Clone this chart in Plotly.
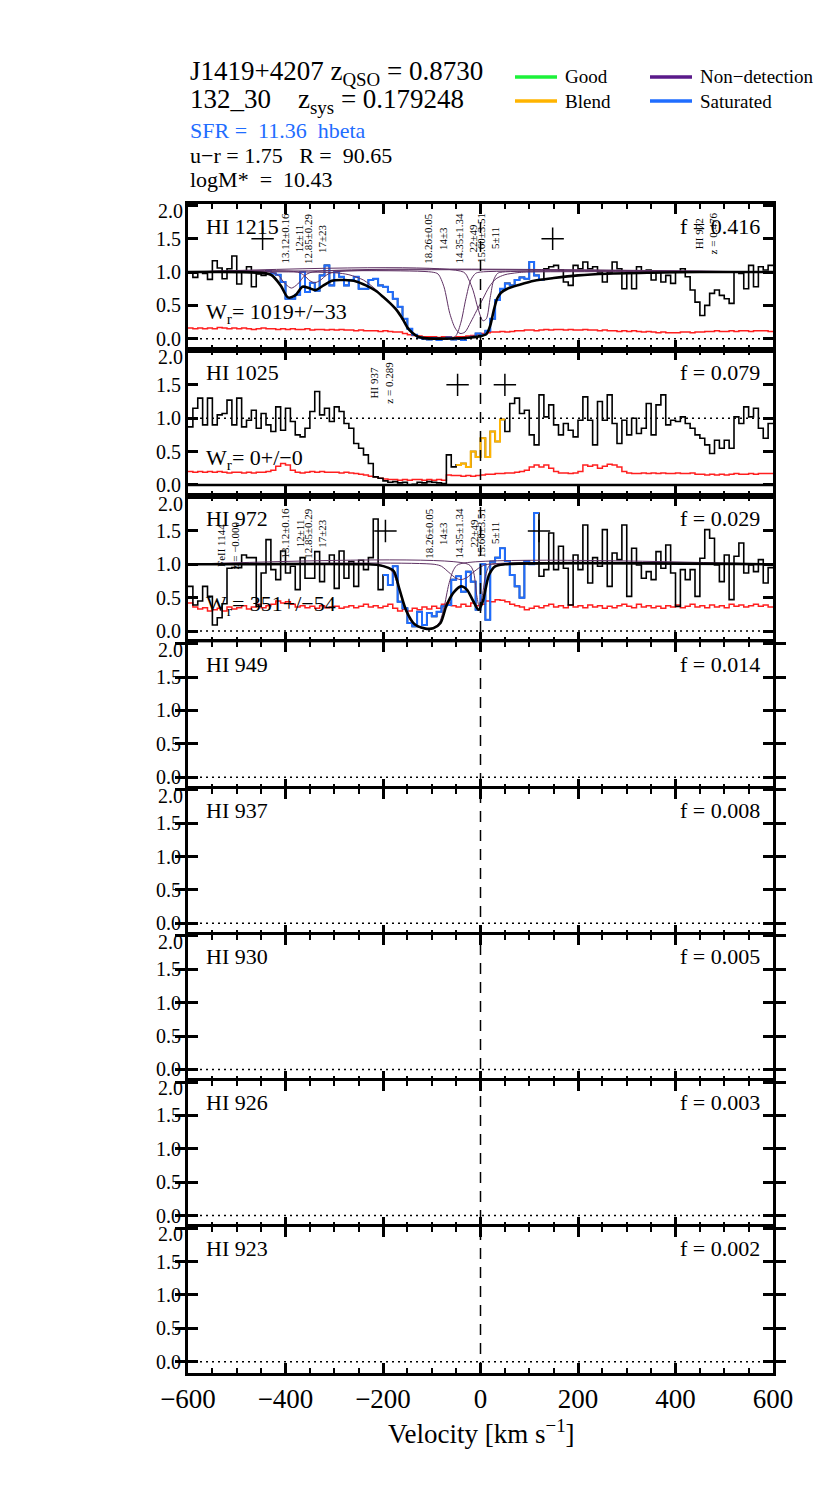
import plotly.graph_objects as go
from plotly.subplots import make_subplots

# velocity bin centres of the spectra (km/s), 10 km/s bins
vel = list(range(-595, 600, 10))

flux_1215 = [1.00, 0.92, 1.00, 0.98, 0.89, 1.17, 1.06, 0.90, 1.05, 1.24,
             0.82, 1.00, 1.08, 0.78, 0.97, 0.95, 1.02, 0.98, 0.96, 0.85,
             0.60, 0.60, 0.66, 1.00, 0.70, 0.84, 0.72, 0.95, 1.10, 0.80,
             1.00, 0.93, 0.80, 0.88, 0.93, 0.75, 0.75, 0.88, 0.90, 0.80,
             0.78, 0.70, 0.60, 0.48, 0.30, 0.15, 0.06, 0.02, 0.00, -0.01,
             0.01, -0.02, 0.00, 0.02, -0.01, 0.00, -0.02, 0.01, 0.03, 0.08,
             0.06, 0.12, 0.30, 0.58, 0.75, 0.83, 0.80, 0.88, 0.92, 0.90,
             1.15, 0.95, 0.88, 1.05, 1.08, 1.10, 1.03, 0.85, 0.80, 1.10,
             1.05, 1.15, 1.05, 1.08, 1.00, 0.85, 1.00, 1.15, 1.05, 0.75,
             1.00, 0.75, 1.08, 1.00, 1.03, 0.88, 1.00, 0.85, 0.95, 0.83,
             1.00, 1.05, 0.93, 0.73, 0.55, 0.35, 0.50, 0.68, 0.73, 0.65,
             0.60, 0.53, 1.00, 0.98, 0.75, 1.10, 0.78, 1.08, 1.03, 1.10]
err_1215 = [0.16, 0.15, 0.16, 0.15, 0.16, 0.15, 0.17, 0.16, 0.15, 0.16,
            0.15, 0.16, 0.15, 0.14, 0.15, 0.16, 0.15, 0.15, 0.14, 0.15,
            0.14, 0.15, 0.14, 0.14, 0.15, 0.13, 0.14, 0.14, 0.13, 0.14,
            0.13, 0.14, 0.13, 0.13, 0.12, 0.13, 0.12, 0.12, 0.12, 0.11,
            0.12, 0.11, 0.10, 0.10, 0.08, 0.06, 0.05, 0.04, 0.03, 0.03,
            0.03, 0.02, 0.03, 0.03, 0.02, 0.03, 0.03, 0.04, 0.05, 0.07,
            0.08, 0.09, 0.10, 0.10, 0.11, 0.10, 0.11, 0.12, 0.12, 0.13,
            0.13, 0.12, 0.13, 0.14, 0.13, 0.14, 0.14, 0.13, 0.14, 0.13,
            0.13, 0.14, 0.13, 0.13, 0.12, 0.13, 0.12, 0.12, 0.11, 0.12,
            0.11, 0.12, 0.11, 0.10, 0.11, 0.10, 0.09, 0.10, 0.09, 0.09,
            0.09, 0.10, 0.10, 0.09, 0.10, 0.10, 0.11, 0.11, 0.12, 0.11,
            0.11, 0.12, 0.11, 0.12, 0.12, 0.11, 0.12, 0.12, 0.12, 0.11]

flux_1025 = [0.87, 1.15, 1.30, 0.90, 1.30, 0.90, 1.05, 1.07, 1.27, 0.90,
             1.30, 0.87, 0.97, 1.12, 0.85, 1.07, 0.90, 0.80, 1.17, 0.82,
             1.15, 0.95, 0.75, 0.72, 0.85, 1.10, 1.40, 1.05, 1.15, 0.95,
             1.17, 1.10, 0.92, 0.85, 0.62, 0.55, 0.45, 0.32, 0.12, 0.10,
             0.06, 0.04, 0.05, 0.03, 0.04, 0.00, 0.01, 0.04, 0.03, 0.05,
             0.04, 0.03, 0.02, 0.45, 0.27, 0.30, 0.32, 0.27, 0.50, 0.42,
             0.70, 0.42, 0.80, 0.65, 0.98, 0.80, 1.22, 1.30, 1.07, 1.12,
             0.75, 0.60, 1.35, 1.02, 1.20, 0.90, 0.75, 0.92, 0.82, 0.72,
             0.97, 1.32, 0.97, 0.60, 1.25, 0.97, 1.35, 0.92, 0.62, 0.97,
             0.75, 1.00, 0.77, 0.85, 1.22, 0.75, 1.20, 1.35, 0.90, 0.97,
             0.95, 1.02, 0.92, 0.85, 0.75, 0.70, 0.60, 0.47, 0.67, 0.55,
             0.67, 0.55, 1.02, 0.92, 1.17, 1.02, 1.15, 0.85, 0.70, 0.92]
err_1025 = [0.20, 0.19, 0.20, 0.19, 0.20, 0.19, 0.20, 0.19, 0.18, 0.19,
            0.19, 0.18, 0.19, 0.18, 0.19, 0.19, 0.20, 0.22, 0.28, 0.32,
            0.30, 0.22, 0.19, 0.18, 0.19, 0.20, 0.19, 0.20, 0.19, 0.19,
            0.19, 0.18, 0.19, 0.18, 0.17, 0.16, 0.15, 0.13, 0.12, 0.10,
            0.09, 0.08, 0.08, 0.07, 0.08, 0.07, 0.08, 0.08, 0.07, 0.08,
            0.07, 0.08, 0.07, 0.15, 0.14, 0.14, 0.13, 0.14, 0.13, 0.14,
            0.15, 0.16, 0.16, 0.17, 0.17, 0.18, 0.18, 0.19, 0.20, 0.22,
            0.27, 0.30, 0.27, 0.30, 0.25, 0.20, 0.18, 0.18, 0.17, 0.18,
            0.20, 0.30, 0.28, 0.30, 0.25, 0.28, 0.31, 0.30, 0.27, 0.20,
            0.18, 0.17, 0.17, 0.18, 0.17, 0.18, 0.17, 0.18, 0.17, 0.17,
            0.18, 0.17, 0.17, 0.18, 0.16, 0.16, 0.15, 0.16, 0.15, 0.16,
            0.15, 0.16, 0.17, 0.16, 0.16, 0.17, 0.16, 0.17, 0.17, 0.17]

flux_972 = [0.67, 0.39, 0.45, 0.67, 0.52, 0.09, 0.20, 0.41, 0.94, 0.95,
            0.95, 1.14, 1.10, 1.10, 0.37, 0.87, 1.37, 0.92, 0.77, 1.20,
            0.87, 0.97, 0.62, 1.10, 0.79, 0.79, 1.19, 0.74, 1.00, 1.14,
            0.64, 1.20, 0.79, 1.04, 0.67, 1.06, 0.92, 1.10, 1.68, 0.62,
            0.84, 0.69, 0.97, 0.44, 0.34, 0.12, 0.07, 0.29, 0.09, 0.27,
            0.22, 0.29, 0.37, 0.39, 0.77, 0.82, 0.59, 0.89, 0.74, 0.32,
            1.00, 0.17, 1.04, 1.10, 1.24, 1.05, 0.84, 0.67, 0.50, 1.05,
            1.00, 1.77, 0.82, 0.92, 1.47, 0.92, 1.27, 0.94, 0.39, 1.14,
            0.92, 1.59, 0.72, 1.10, 0.97, 1.52, 0.67, 1.17, 1.07, 1.59,
            0.52, 1.24, 0.99, 0.79, 0.89, 0.77, 1.19, 0.94, 1.29, 0.87,
            0.37, 0.92, 0.77, 0.92, 0.52, 1.09, 1.52, 1.39, 0.99, 0.74,
            1.14, 0.47, 1.12, 1.32, 0.87, 0.99, 0.89, 1.07, 0.72, 0.95]
err_972 = [0.42, 0.36, 0.33, 0.35, 0.30, 0.32, 0.34, 0.30, 0.36, 0.33,
           0.35, 0.38, 0.33, 0.36, 0.40, 0.35, 0.38, 0.40, 0.45, 0.42,
           0.44, 0.40, 0.36, 0.38, 0.35, 0.37, 0.34, 0.38, 0.35, 0.36,
           0.37, 0.34, 0.36, 0.38, 0.35, 0.37, 0.40, 0.36, 0.38, 0.35,
           0.37, 0.40, 0.34, 0.30, 0.33, 0.30, 0.34, 0.32, 0.36, 0.33,
           0.37, 0.34, 0.40, 0.42, 0.38, 0.36, 0.40, 0.37, 0.42, 0.38,
           0.40, 0.45, 0.44, 0.47, 0.46, 0.44, 0.40, 0.38, 0.36, 0.32,
           0.34, 0.37, 0.35, 0.38, 0.40, 0.36, 0.38, 0.35, 0.39, 0.36,
           0.38, 0.35, 0.39, 0.36, 0.38, 0.34, 0.37, 0.35, 0.38, 0.40,
           0.37, 0.35, 0.40, 0.36, 0.38, 0.35, 0.37, 0.34, 0.38, 0.36,
           0.39, 0.35, 0.37, 0.40, 0.36, 0.38, 0.35, 0.39, 0.36, 0.38,
           0.35, 0.40, 0.37, 0.39, 0.36, 0.38, 0.40, 0.37, 0.39, 0.36]

# fitted model (thick black) sampled along velocity
model_1215_v = [-600, -470, -430, -410, -395, -380, -365, -352, -338, -322, -305,
                -280, -255, -235, -215, -200, -185, -172, -160, -150, -140, -128,
                -115, -60, -20, 0, 12, 20, 27, 34, 42, 55, 80, 110, 150, 200,
                260, 350, 450, 600]
model_1215_f = [1.0, 0.995, 0.96, 0.8, 0.62, 0.65, 0.78, 0.76, 0.73, 0.8, 0.87,
                0.88, 0.86, 0.8, 0.72, 0.63, 0.53, 0.43, 0.3, 0.17, 0.09, 0.03,
                0.01, 0.005, 0.02, 0.04, 0.07, 0.2, 0.42, 0.6, 0.69, 0.75, 0.81,
                0.87, 0.91, 0.95, 0.975, 0.99, 1.0, 1.0]
model_972_v = [-600, -230, -210, -190, -178, -166, -152, -135, -115, -97, -82,
               -70, -55, -40, -28, -15, -4, 5, 10, 18, 30, 50, 600]
model_972_f = [1.0, 1.0, 0.99, 0.95, 0.9, 0.62, 0.3, 0.1, 0.04, 0.04, 0.12,
               0.38, 0.58, 0.67, 0.62, 0.45, 0.32, 0.45, 0.62, 0.85, 0.97, 1.0, 1.0]

# individual components (thin lines), HI 1215 panel
c1_v = [-600, -430, -415, -400, -388, -375, -360, -345, 600]
c1_f = [1.0, 1.0, 0.95, 0.82, 0.76, 0.82, 0.95, 1.0, 1.0]
c2_v = [-600, -375, -362, -350, -340, -328, -315, -300, 600]
c2_f = [1.0, 1.0, 0.95, 0.87, 0.84, 0.88, 0.96, 1.0, 1.0]
c3_v = [-600, -300, -270, -240, -215, -200, -185, -172, -160, -150, -140, -128,
        -60, -50, -40, -30, -20, -10, 0, 600]
c3_f = [1.0, 0.99, 0.96, 0.88, 0.74, 0.64, 0.54, 0.44, 0.31, 0.18, 0.09, 0.02,
        0.0, 0.05, 0.25, 0.6, 0.88, 0.98, 1.0, 1.0]
c4_v = [-600, -100, -87, -75, -63, -52, -42, -32, -20, -8, 5, 18, 32, 50, 75, 95, 600]
c4_f = [1.0, 1.0, 0.97, 0.78, 0.38, 0.16, 0.08, 0.1, 0.25, 0.42, 0.6, 0.78,
        0.9, 0.96, 0.99, 1.0, 1.0]
c5_v = [-600, -35, -25, -15, -5, 5, 12, 20, 27, 35, 45, 600]
c5_f = [1.0, 1.0, 0.9, 0.72, 0.45, 0.27, 0.3, 0.62, 0.88, 0.98, 1.0, 1.0]
# individual components, HI 972 panel
d3_v = [-600, -225, -200, -182, -168, -155, -140, -120, -100, -85, -75, -65, -55, -45, 600]
d3_f = [1.0, 1.0, 0.98, 0.9, 0.65, 0.33, 0.12, 0.04, 0.04, 0.12, 0.35, 0.7, 0.92, 1.0, 1.0]
d4_v = [-600, -95, -80, -65, -50, -40, -28, -15, 0, 15, 600]
d4_f = [1.0, 1.0, 0.97, 0.88, 0.79, 0.77, 0.8, 0.88, 0.96, 1.0, 1.0]
d5_v = [-600, -25, -15, -8, -3, 3, 10, 18, 25, 600]
d5_f = [1.0, 1.0, 0.9, 0.55, 0.38, 0.5, 0.82, 0.98, 1.0, 1.0]

line_names = ["HI 1215", "HI 1025", "HI 972", "HI 949", "HI 937", "HI 930", "HI 926", "HI 923"]
f_values = ["0.416", "0.079", "0.029", "0.014", "0.008", "0.005", "0.003", "0.002"]
wr_values = ["1019+/\u221233", "0+/\u22120", "351+/\u221254"]

comp_v = [-386, -340, -92, -29, 14]
comp_logn = ["13.12\u00b10.16", "12.85\u00b10.29", "18.26\u00b10.05", "14.35\u00b11.34", "15.60\u00b13.51"]
comp_b = ["12\u00b111", "17\u00b123", "14\u00b13", "22\u00b149", "5\u00b111"]

# crosses marking the integration limits
cross_v = [[-447, 148], [-47, 50], [-195, 120]]

FONT = "Liberation Serif"
BLACK = "#000000"
RED = "#ff1f1f"
BLUE = "#1f6dff"
ORANGE = "#ffb400"
GREEN = "#1cf23a"
PURPLE = "#5a1a8a"
THIN = "#5e3163"

# page body has an 8px margin, so figure coords = page coords - 8
OFF = 8
W, H = 830, 1495
ML, MR, MT, MB = 188 - OFF, 830 - 773 + OFF, 204 - OFF, 1495 - 1373 + OFF


def paper(xp, yp):
    return (xp - OFF - ML) / (W - ML - MR), (H - MB - (yp - OFF)) / (H - MT - MB)


def steps(v, f, lo=-600, hi=600):
    xs, ys = [], []
    for vc, fc in zip(v, f):
        if lo <= vc <= hi:
            xs.append(vc - 5)
            ys.append(fc)
    xs.append(xs[-1] + 10)
    ys.append(ys[-1])
    return xs, ys


fig = make_subplots(rows=8, cols=1, shared_xaxes=True, vertical_spacing=0)


def add_step(row, v, f, color, width, lo=-600, hi=600):
    xs, ys = steps(v, f, lo, hi)
    fig.add_trace(go.Scatter(x=xs, y=ys, mode="lines", line=dict(color=color, width=width, shape="hv"),
                             hoverinfo="skip"), row=row, col=1)


def add_curve(row, v, f, color, width):
    fig.add_trace(go.Scatter(x=v, y=f, mode="lines",
                             line=dict(color=color, width=width, shape="spline", smoothing=0.8),
                             hoverinfo="skip"), row=row, col=1)


DOT = "2px,4px"
# dotted zero line everywhere
for r in range(1, 9):
    fig.add_shape(type="line", x0=-600, x1=600, y0=0, y1=0, line=dict(color=BLACK, width=1.5, dash=DOT),
                  row=r, col=1)
fig.add_shape(type="line", x0=-600, x1=600, y0=1, y1=1, line=dict(color=BLACK, width=1.5, dash=DOT),
              row=2, col=1)
fig.add_shape(type="line", x0=-600, x1=600, y0=0, y1=0, line=dict(color=BLACK, width=2.5), row=2, col=1)

# HI 1215
add_step(1, vel, err_1215, RED, 1.5)
add_step(1, vel, flux_1215, BLACK, 1.6)
add_step(1, vel, flux_1215, BLUE, 2, -440, 130)
for cv, cf in [(c1_v, c1_f), (c2_v, c2_f), (c3_v, c3_f), (c4_v, c4_f), (c5_v, c5_f)]:
    add_curve(1, cv, cf, THIN, 1)
add_curve(1, model_1215_v, model_1215_f, BLACK, 2.6)

# HI 1025
add_step(2, vel, err_1025, RED, 1.5)
add_step(2, vel, flux_1025, BLACK, 1.6)
add_step(2, vel, flux_1025, ORANGE, 2, -45, 45)

# HI 972
add_step(3, vel, err_972, RED, 1.5)
add_step(3, vel, flux_972, BLACK, 1.6)
add_step(3, vel, flux_972, BLUE, 2, -200, 115)
for cv, cf in [(d3_v, d3_f), (d4_v, d4_f), (d5_v, d5_f)]:
    add_curve(3, cv, cf, THIN, 1)
add_curve(3, model_972_v, model_972_f, BLACK, 2.6)

# integration limit crosses
for i, cv in enumerate(cross_v):
    fig.add_trace(go.Scatter(x=cv, y=[1.5, 1.5], mode="markers",
                             marker=dict(symbol="cross-thin", size=16, line=dict(color=BLACK, width=1.5)),
                             hoverinfo="skip"), row=i + 1, col=1)

# vertical dashed line at v = 0
fig.add_shape(type="line", xref="x", yref="paper", x0=0, x1=0, y0=0, y1=1,
              line=dict(color=BLACK, width=1.5, dash="11px,8px"))

ann = []
for i in range(8):
    yref = "y" if i == 0 else "y%d" % (i + 1)
    ann.append(dict(x=-568, y=1.69, xref="x", yref=yref, text=line_names[i], showarrow=False,
                    xanchor="left", yanchor="middle", font=dict(size=22)))
    ann.append(dict(x=577, y=1.69, xref="x", yref=yref, text="f = " + f_values[i], showarrow=False,
                    xanchor="right", yanchor="middle", font=dict(size=22)))
    # the 2.0 label sits just below the top frame
    ann.append(dict(x=0, y=2.0, xref="paper", yref=yref, text="2.0", showarrow=False,
                    xanchor="right", yanchor="middle", xshift=-3, yshift=-6, font=dict(size=20)))
for i in range(3):
    yref = "y" if i == 0 else "y%d" % (i + 1)
    ann.append(dict(x=-568, y=0.39, xref="x", yref=yref, text="W<sub>r</sub>= " + wr_values[i],
                    showarrow=False, xanchor="left", yanchor="middle", font=dict(size=22)))

# component labels (rotated)
for yref, ytop in [("y", 1.92), ("y3", 1.88)]:
    for cv, ln, bb in zip(comp_v, comp_logn, comp_b):
        ann.append(dict(x=cv, y=ytop, xref="x", yref=yref, text=ln + "<br>" + bb, textangle=-90,
                        showarrow=False, xanchor="center", yanchor="top", align="center",
                        font=dict(size=11)))
# blend identifications
for yref, cv, ytop, t1, t2 in [("y", 462, 1.92, "HI 972", "z = 0.476"),
                                ("y2", -203, 1.87, "HI 937", "z = 0.289"),
                                ("y3", -519, 1.68, "FeII 1144", "z = \u22120.000")]:
    ann.append(dict(x=cv, y=ytop, xref="x", yref=yref, text=t1 + "<br>" + t2, textangle=-90,
                    showarrow=False, xanchor="center", yanchor="top", align="center",
                    font=dict(size=11)))

# header
hdr = [(188, 73, "J1419+4207 z<sub>QSO</sub> = 0.8730", 27, BLACK),
       (188, 101, "132_30    z<sub>sys</sub> = 0.179248", 27, BLACK),
       (188, 130, "SFR =  11.36  hbeta", 22, BLUE),
       (188, 155, "u\u2212r = 1.75   R =  90.65", 22, BLACK),
       (188, 179, "logM*  =  10.43", 22, BLACK)]
for xp, yp, t, s, c in hdr:
    px, py = paper(xp, yp)
    ann.append(dict(x=px, y=py, xref="paper", yref="paper", text=t, showarrow=False,
                    xanchor="left", yanchor="middle", font=dict(size=s, color=c)))

legend_items = [(515, 77, "Good", GREEN), (515, 101, "Blend", ORANGE),
                (650, 77, "Non\u2212detection", PURPLE), (650, 101, "Saturated", BLUE)]
for xp, yp, t, c in legend_items:
    x0, y0 = paper(xp, yp)
    x1, _ = paper(xp + 42, yp)
    fig.add_shape(type="line", xref="paper", yref="paper", x0=x0, x1=x1, y0=y0, y1=y0,
                  line=dict(color=c, width=3.5))
    tx, _ = paper(xp + 48, yp)
    ann.append(dict(x=tx, y=y0, xref="paper", yref="paper", text=t, showarrow=False,
                    xanchor="left", yanchor="middle", font=dict(size=19)))

px, py = paper(481, 1432)
ann.append(dict(x=px, y=py, xref="paper", yref="paper", text="Velocity [km s<sup>\u22121</sup>]",
                showarrow=False, xanchor="center", yanchor="middle", font=dict(size=27)))

fig.update_layout(width=W, height=H, margin=dict(l=ML, r=MR, t=MT, b=MB),
                  plot_bgcolor="white", paper_bgcolor="white", showlegend=False,
                  font=dict(family=FONT, color=BLACK), annotations=ann)

fig.update_xaxes(range=[-600, 600], showline=True, linewidth=3, linecolor=BLACK, mirror="allticks",
                 ticks="inside", ticklen=10, tickwidth=3, tickcolor=BLACK, tick0=0, dtick=200,
                 minor=dict(ticks="inside", dtick=50, ticklen=5, tickwidth=2, tickcolor=BLACK),
                 showgrid=False, zeroline=False, tickfont=dict(size=27, family=FONT))
fig.update_yaxes(range=[-0.17, 2.02], tickvals=[0, 0.5, 1, 1.5, 2],
                 ticktext=["0.0", "0.5", "1.0", "1.5", ""], showline=True, linewidth=3,
                 linecolor=BLACK, mirror="allticks", ticks="inside", ticklen=10, tickwidth=3,
                 tickcolor=BLACK, showgrid=False, zeroline=False, tickfont=dict(size=20, family=FONT))

fig.write_html("out.html")
